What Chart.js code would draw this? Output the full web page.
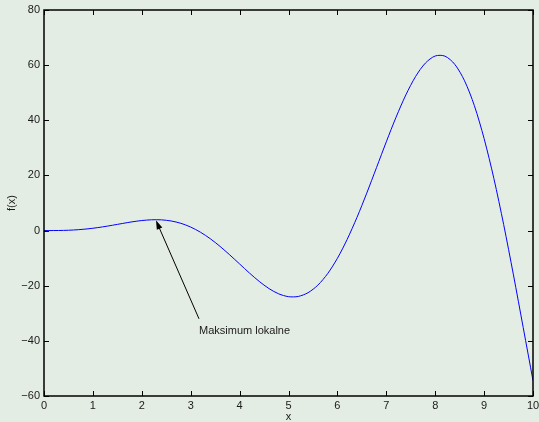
<!DOCTYPE html>
<html>
<head>
<meta charset="utf-8">
<script src="https://cdn.jsdelivr.net/npm/chart.js@4/dist/chart.umd.min.js"></script>
<style>
  html, body { margin: 0; padding: 0; background: #e4ede4; }
  canvas { display: block; }
</style>
</head>
<body>
<canvas id="plot" width="539" height="422"></canvas>
<script>
// Sampled curve f(x)
const xValues = [0, 0.2, 0.4, 0.6, 0.8, 1.0, 1.2, 1.4, 1.6, 1.8, 2.0, 2.2, 2.4, 2.6, 2.8, 3.0,
  3.2, 3.4, 3.6, 3.8, 4.0, 4.2, 4.4, 4.6, 4.8, 5.0, 5.2, 5.4, 5.6, 5.8, 6.0, 6.2, 6.4, 6.6, 6.8,
  7.0, 7.2, 7.4, 7.6, 7.8, 8.0, 8.2, 8.4, 8.6, 8.8, 9.0, 9.2, 9.4, 9.6, 9.8, 10.0];
const fValues = [0, 0.01, 0.06, 0.20, 0.46, 0.84, 1.34, 1.93, 2.56, 3.16, 3.64, 3.91, 3.89, 3.48,
  2.63, 1.27, -0.60, -2.95, -5.74, -8.84, -12.11, -15.38, -18.42, -21.03, -22.95, -23.97, -23.89,
  -22.53, -19.80, -15.63, -10.06, -3.19, 4.77, 13.57, 22.85, 32.19, 41.14, 49.21, 55.91, 60.75,
  63.32, 63.26, 60.30, 54.33, 45.35, 33.38, 18.87, 2.19, -16.07, -35.20, -54.40];

// Axis ticks
const xTicks = [0, 1, 2, 3, 4, 5, 6, 7, 8, 9, 10];
const yTicks = [-60, -40, -20, 0, 20, 40, 60, 80];

// Arrow annotation (data coordinates)
const noteText = 'Maksimum lokalne';
const noteTip = [2.29, 3.7];
const noteTail = [3.17, -32];

const FONT = "'Liberation Sans', Arial, Helvetica, sans-serif";
Chart.defaults.font.family = FONT;
Chart.defaults.font.size = 11;
Chart.defaults.color = '#1a1a1a';

const fmt = v => (v < 0 ? '\u2212' + Math.abs(v) : String(v));

// Box frame with inward-pointing ticks on all four sides
const frameTicks = {
  id: 'frameTicks',
  afterDraw(chart) {
    const { ctx, chartArea: a, scales } = chart;
    const len = 5;
    ctx.save();
    ctx.strokeStyle = '#000';
    ctx.lineWidth = 1;
    ctx.beginPath();
    xTicks.forEach(v => {
      const px = Math.round(scales.x.getPixelForValue(v)) + 0.5;
      ctx.moveTo(px, a.bottom); ctx.lineTo(px, a.bottom - len);
      ctx.moveTo(px, a.top); ctx.lineTo(px, a.top + len);
    });
    yTicks.forEach(v => {
      const py = Math.round(scales.y.getPixelForValue(v)) + 0.5;
      ctx.moveTo(a.left, py); ctx.lineTo(a.left + len, py);
      ctx.moveTo(a.right, py); ctx.lineTo(a.right - len, py);
    });
    ctx.stroke();
    ctx.lineWidth = 1.5;
    ctx.strokeRect(Math.round(a.left), Math.round(a.top), Math.round(a.right - a.left), Math.round(a.bottom - a.top));
    ctx.restore();
  }
};

// Arrow pointing at the local maximum, with its caption
const arrowNote = {
  id: 'arrowNote',
  afterDatasetsDraw(chart) {
    const { ctx, scales } = chart;
    const tx = scales.x.getPixelForValue(noteTip[0]);
    const ty = scales.y.getPixelForValue(noteTip[1]);
    const sx = scales.x.getPixelForValue(noteTail[0]);
    const sy = scales.y.getPixelForValue(noteTail[1]);
    const ang = Math.atan2(ty - sy, tx - sx);
    const head = 9, half = 3;
    ctx.save();
    ctx.strokeStyle = '#000';
    ctx.fillStyle = '#000';
    ctx.lineWidth = 1;
    ctx.beginPath();
    ctx.moveTo(sx, sy);
    ctx.lineTo(tx - Math.cos(ang) * head * 0.8, ty - Math.sin(ang) * head * 0.8);
    ctx.stroke();
    ctx.beginPath();
    ctx.moveTo(tx, ty);
    ctx.lineTo(tx - Math.cos(ang) * head + Math.sin(ang) * half, ty - Math.sin(ang) * head - Math.cos(ang) * half);
    ctx.lineTo(tx - Math.cos(ang) * head - Math.sin(ang) * half, ty - Math.sin(ang) * head + Math.cos(ang) * half);
    ctx.closePath();
    ctx.fill();
    ctx.fillStyle = '#1a1a1a';
    ctx.font = '11px ' + FONT;
    ctx.textAlign = 'left';
    ctx.textBaseline = 'alphabetic';
    ctx.fillText(noteText, sx, sy + 15);
    ctx.restore();
  }
};

new Chart(document.getElementById('plot'), {
  type: 'line',
  data: {
    datasets: [{
      data: xValues.map((x, i) => ({ x, y: fValues[i] })),
      borderColor: '#0000ff',
      borderWidth: 1,
      pointRadius: 0,
      tension: 0.3,
      fill: false
    }]
  },
  options: {
    responsive: false,
    animation: false,
    layout: { padding: { top: 10, right: 6, left: 0, bottom: 0 } },
    plugins: { legend: { display: false }, tooltip: { enabled: false } },
    scales: {
      x: {
        type: 'linear',
        min: 0, max: 10,
        afterBuildTicks: s => { s.ticks = xTicks.map(v => ({ value: v })); },
        afterFit: s => { s.height = 26; s.paddingRight = 6; s.paddingLeft = 0; },
        grid: { display: false, drawTicks: false },
        border: { display: false },
        ticks: { padding: 3, callback: fmt, maxRotation: 0, autoSkip: false },
        title: { display: true, text: 'x', padding: { top: 0, bottom: 0 }, font: { size: 11, lineHeight: 1 } }
      },
      y: {
        type: 'linear',
        min: -60, max: 80,
        afterBuildTicks: s => { s.ticks = yTicks.map(v => ({ value: v })); },
        afterFit: s => { s.width = 44; s.paddingTop = 0; s.paddingBottom = 0; },
        grid: { display: false, drawTicks: false },
        border: { display: false },
        ticks: { padding: 4, callback: fmt, autoSkip: false },
        title: { display: true, text: 'f(x)', padding: { top: 6, bottom: 0 }, font: { size: 11, lineHeight: 1 } }
      }
    }
  },
  plugins: [frameTicks, arrowNote]
});
</script>
</body>
</html>
